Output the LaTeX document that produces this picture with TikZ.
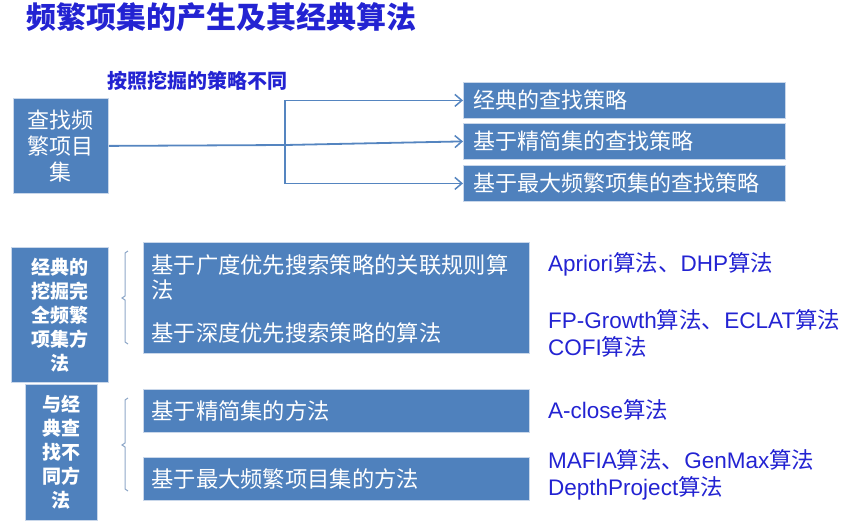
\documentclass[tikz,border=0pt]{standalone}
\usepackage{fontspec}
\setmainfont{Noto Sans CJK SC}
\newfontfamily\lat{Liberation Sans}
\usetikzlibrary{arrows.meta}
\definecolor{boxblue}{HTML}{4F81BD}
\definecolor{boxedge}{HTML}{C9D7EA}
\definecolor{txtblue}{RGB}{35,35,210}
\definecolor{linkblue}{HTML}{5585C0}
\definecolor{brk}{HTML}{8FA8C8}
\newcommand\lt[1]{{\lat #1}}
\tikzset{
  boxs/.style={fill=boxblue, draw=boxedge, line width=0.8pt, inner sep=0pt, anchor=north west, text=white},
  link/.style={draw=linkblue, line width=1.8pt},
  tipend/.style={-{Straight Barb[length=7pt,width=12pt,line width=1.5pt]}},
  brace/.style={draw=brk, line width=1pt},
  bluelab/.style={anchor=west, inner sep=0pt, text=txtblue, align=left, font=\fontsize{22.5}{26.5}\selectfont},
  upfont/.style={font=\fontsize{22}{26}\selectfont},
  lowfont/.style={font=\fontsize{22.3}{25}\selectfont},
  sidefont/.style={font=\fontsize{19}{24}\selectfont\bfseries}
}
\begin{document}
\begin{tikzpicture}[x=1pt,y=-1pt]
\useasboundingbox (0,0) rectangle (846,522);
% title
\node[anchor=west, inner sep=0pt, text=txtblue, font=\fontsize{30}{32}\selectfont\bfseries] (title) at (26,17) {频繁项集的产生及其经典算法};
\node[anchor=west, inner sep=0pt, text=txtblue, font=\fontsize{20}{22}\selectfont\bfseries] (crit) at (107,81) {按照挖掘的策略不同};
% upper part
\node[boxs, upfont, minimum width=95pt, minimum height=95pt, align=center] (Q) at (13,98) {查找频\\繁项目\\集};
\node[boxs, upfont, minimum height=36pt, text width=302pt, inner xsep=10pt, align=left] (R1) at (463,82) {经典的查找策略};
\node[boxs, upfont, minimum height=36pt, text width=302pt, inner xsep=10pt, align=left] (R2) at (463,123) {基于精简集的查找策略};
\node[boxs, upfont, minimum height=36pt, text width=302pt, inner xsep=10pt, align=left] (R3) at (463,165) {基于最大频繁项集的查找策略};
\coordinate (j) at (285,145);
\draw[link] (Q.east) -- (j);
\draw[link,tipend] (j) |- (R1.west);
\draw[link,tipend] (j) -- (R2.west);
\draw[link,tipend] (j) |- (R3.west);
% lower part
\node[boxs, sidefont, minimum width=97pt, minimum height=135pt, align=center] (A) at (11,247) {经典的\\挖掘完\\全频繁\\项集方\\法};
\node[boxs, sidefont, minimum width=72pt, minimum height=136pt, align=center] (B) at (25,384) {与经\\典查\\找不\\同方\\法};
\node[boxs, draw=none, lowfont, minimum height=71pt, text width=370pt, inner xsep=8pt, align=left] (C1) at (143,242) {\makebox[357pt][l]{基\hfill 于\hfill 广\hfill 度\hfill 优\hfill 先\hfill 搜\hfill 索\hfill 策\hfill 略\hfill 的\hfill 关\hfill 联\hfill 规\hfill 则\hfill 算}\\法};
\node[boxs, draw=none, lowfont, minimum height=40pt, text width=370pt, inner xsep=8pt, align=left] (C2) at (143,313) {基于深度优先搜索策略的算法};
\draw[draw=boxedge, line width=0.8pt] (C1.north west) rectangle (C2.south east);
\node[boxs, lowfont, minimum height=43pt, text width=370pt, inner xsep=8pt, align=left] (D) at (143,389) {基于精简集的方法};
\node[boxs, lowfont, minimum height=43pt, text width=370pt, inner xsep=8pt, align=left] (E) at (143,457) {基于最大频繁项目集的方法};
% braces
\draw[brace] (128,251) -- (125,253) -- (125,296) -- (122,298) -- (125,300) -- (125,342) -- (128,344);
\draw[brace] (128,398) -- (125,400) -- (125,443) -- (122,445) -- (125,447) -- (125,489) -- (128,491);
% algorithm labels
\node[bluelab] (L1) at (548,264) {\lt{Apriori}算法、\lt{DHP}算法};
\node[bluelab] (L2) at (548,333.5) {\lt{FP-Growth}算法、\lt{ECLAT}算法\\\lt{COFI}算法};
\node[bluelab] (L3) at (548,410) {\lt{A-close}算法};
\node[bluelab] (L4) at (548,475) {\lt{MAFIA}算法、\lt{GenMax}算法\\\lt{DepthProject}算法};
\end{tikzpicture}
\end{document}
